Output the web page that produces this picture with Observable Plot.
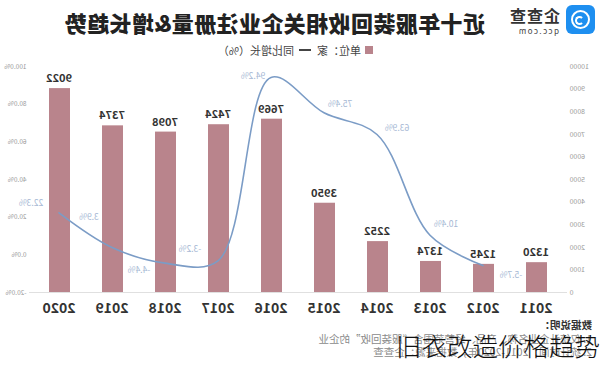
<!DOCTYPE html>
<html>
<head>
<meta charset="utf-8">
<script src="https://cdn.jsdelivr.net/npm/d3@7"></script>
<script src="https://cdn.jsdelivr.net/npm/@observablehq/plot@0.6"></script>
<style>
  html, body { margin: 0; padding: 0; background: #fff; }
  body { font-family: "Noto Sans CJK SC", "Noto Sans", sans-serif; }
  #wrap { position: relative; width: 600px; height: 369px; overflow: hidden; background: #fff; }
  #flip { position: absolute; left: 0; top: 0; width: 600px; height: 369px; transform: scaleX(-1); }
  #chart { position: absolute; left: 0; top: 0; }
  #title { position: absolute; left: 115px; top: 6px; font-size: 22px; font-weight: 900; color: #222; white-space: nowrap; letter-spacing: 0.4px; }
  #logo { position: absolute; left: 5px; top: 5px; width: 29px; height: 29px; border-radius: 6px; background: #1e8ff0; }
  #logo .ring { position: absolute; left: 5px; top: 5px; width: 15px; height: 15px; border: 2.5px solid #fff; border-radius: 50%; }
  #logo .dot { position: absolute; left: 11px; top: 11px; width: 5px; height: 5px; border: 2px solid #fff; border-radius: 50%; border-left-color: transparent; }
  #logoTxt { position: absolute; left: 40px; top: 3px; font-size: 16px; font-weight: 700; color: #333; letter-spacing: 1px; }
  #logoSub { position: absolute; left: 41px; top: 25px; font-size: 8px; color: #444; letter-spacing: 1.5px; }
  #legend { position: absolute; left: 227px; top: 42px; font-size: 11px; color: #444; white-space: nowrap; display: flex; align-items: center; }
  #legend .sq { display: inline-block; width: 8px; height: 8px; background: #b9848c; margin-right: 4px; }
  #legend .ln { display: inline-block; width: 12px; height: 1.5px; background: #444; margin: 0 5px 0 6px; }
  #foot { position: absolute; left: 8px; top: 318px; font-size: 10.5px; color: #8a8a8a; line-height: 13.5px; white-space: nowrap; }
  #foot b { color: #333; }
  #overlay { position: absolute; left: 396px; top: 332px; font-size: 25.5px; font-weight: 300; color: #111; line-height: 1; white-space: nowrap; font-family: "Noto Sans CJK SC", sans-serif; }
</style>
</head>
<body>
<div id="wrap">
  <div id="flip">
    <div id="chart"></div>
    <div id="logo"><div class="ring"></div><div class="dot"></div></div>
    <div id="logoTxt">企查查</div>
    <div id="logoSub">qcc.com</div>
    <div id="title">近十年服装回收相关企业注册量&amp;增长趋势</div>
    <div id="legend"><span class="sq"></span><span>单位：家</span><span class="ln"></span><span>同比增长（%）</span></div>
    <div id="foot"><b>数据说明：</b><br>1. 仅统计企业名称、产品、经营范围含“服装回收”的企业<br>2. 统计时间：2011-2020年；数据来源：企查查</div>
  </div>
  <div id="overlay">旧衣改造价格趋势</div>
</div>
<script>
// ---- data ----
const years = ["2011","2012","2013","2014","2015","2016","2017","2018","2019","2020"];
const counts = [1320, 1245, 1374, 2252, 3950, 7669, 7424, 7098, 7374, 9022];
const growth = [null, -5.7, 10.4, 63.9, 75.4, 94.2, -3.2, -4.4, 3.9, 22.3];
const countTicks = [0,1000,2000,3000,4000,5000,6000,7000,8000,9000,10000];
const pctTicks = [-20, 0, 20, 40, 60, 80, 100];

// ---- build ----
const pMin = -20, pMax = 100, cMax = 10000;
const toC = p => (p - pMin) / (pMax - pMin) * cMax;
const fromC = c => c / cMax * (pMax - pMin) + pMin;

const bars = years.map((y, i) => ({year: y, count: counts[i]}));
const line = years.map((y, i) => ({year: y, g: growth[i]})).filter(d => d.g !== null)
  .map(d => ({...d, gc: toC(d.g)}));

// label placement (styling)
const labelOffsets = {
  "2020": [28, -10], "2019": [23, -30], "2018": [26, 7], "2017": [28, -12],
  "2016": [18, -1], "2015": [-16, -9], "2014": [-20, -6], "2013": [-16, -11], "2012": [-28, 10]
};
const lineColor = "#7b9cc6";
const lineLabelColor = "#a6b8d4";

const growthLabels = line.map(d => Plot.text([d], {
  x: "year", y: "gc", text: t => t.g.toFixed(1) + "%",
  dx: labelOffsets[d.year][0], dy: labelOffsets[d.year][1],
  fill: lineLabelColor, fontSize: 8.5, textAnchor: "middle"
}));

const chart = Plot.plot({
  width: 600,
  height: 330,
  marginTop: 66,
  marginBottom: 38,
  marginLeft: 33,
  marginRight: 29,
  style: {fontFamily: "'Noto Sans CJK SC', 'Noto Sans', sans-serif", background: "transparent"},
  x: {domain: years, paddingInner: 0.61, paddingOuter: 0.305, label: null},
  y: {domain: [0, cMax], label: null},
  marks: [
    Plot.ruleY([0], {stroke: "#e0e0e0", strokeWidth: 1}),
    Plot.barY(bars, {x: "year", y: "count", fill: "#b9848c"}),
    Plot.text(bars, {x: "year", y: "count", text: d => String(d.count), dy: -10,
      fontSize: 11, fontWeight: 700, fill: "#333"}),
    Plot.line(line, {x: "year", y: "gc", stroke: lineColor, strokeWidth: 1.6, curve: "catmull-rom"}),
    ...growthLabels,
    Plot.axisX({tickSize: 0, tickPadding: 11, fontSize: 14, fontWeight: 700, fill: "#333", label: null}),
    Plot.axisY({anchor: "left", ticks: countTicks, tickSize: 0, tickPadding: 3, fontSize: 7, fill: "#9a9a9a", label: null, tickFormat: d => String(d)}),
    Plot.axisY({anchor: "right", ticks: pctTicks.map(toC), tickSize: 0, tickPadding: 2, fontSize: 6.5, fill: "#9a9a9a", label: null,
      tickFormat: d => fromC(d).toFixed(1) + "%"})
  ]
});
document.getElementById("chart").appendChild(chart);
</script>
</body>
</html>
